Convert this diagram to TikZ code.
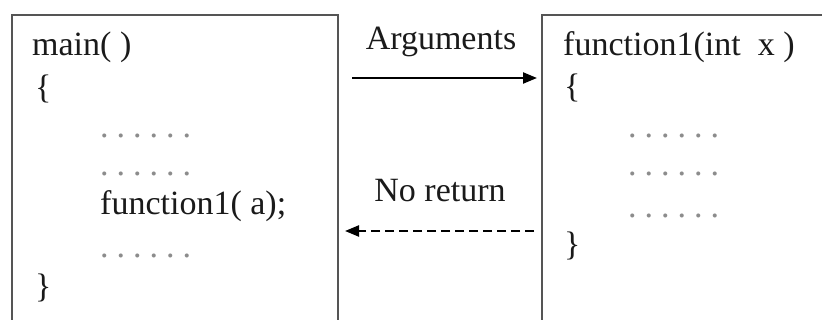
\documentclass[tikz,border=0pt]{standalone}
\usepackage{fontspec}
\setmainfont{Liberation Serif}
\usetikzlibrary{arrows.meta}
\definecolor{boxgray}{HTML}{555555}
\definecolor{txt}{HTML}{1A1A1A}
\definecolor{dotgray}{HTML}{8C8C8C}
\newcommand{\dotline}{.\hspace{8pt}.\hspace{8pt}.\hspace{8pt}.\hspace{8pt}.\hspace{8pt}.}
\begin{document}
\begin{tikzpicture}[x=1pt,y=-1pt,
  box/.style={draw=boxgray,line width=2pt,anchor=north west,inner sep=0pt},
  code/.style={anchor=base west,inner sep=0pt,text=txt,font=\fontsize{34}{40}\selectfont},
  dotrow/.style={anchor=base west,inner sep=0pt,text=dotgray,font=\fontsize{34}{40}\selectfont},
  lbl/.style={anchor=base,inner sep=0pt,text=txt,font=\fontsize{34}{40}\selectfont},
  conn/.style={line width=2.2pt,-{Triangle[length=14pt,width=11pt]}}
]
\useasboundingbox (0,0) rectangle (822,320);
\clip (0,0) rectangle (822,320);
\fill[white] (0,0) rectangle (822,320);
% boxes
\node[box,minimum width=326pt,minimum height=330pt] (L) at (11,14) {};
\node[box,minimum width=300pt,minimum height=330pt] (R) at (541,14) {};
% left code
\node[code] (l1) at (32,56) {main( )};
\node[code] (l2) at (35,99) {\{};
\node[dotrow] (l3) at (100,138) {\dotline};
\node[dotrow] (l4) at (100,176) {\dotline};
\node[code] (l5) at (100,215) {function1( a);};
\node[dotrow] (l6) at (100,258) {\dotline};
\node[code] (l7) at (35,298) {\}};
% right code
\node[code] (r1) at (563,56) {function1(int\ \ x )};
\node[code] (r2) at (564,98) {\{};
\node[dotrow] (r3) at (628,138) {\dotline};
\node[dotrow] (r4) at (628,176) {\dotline};
\node[dotrow] (r5) at (628,218) {\dotline};
\node[code] (r6) at (564,256) {\}};
% labels
\node[lbl] (argl) at (441,50) {Arguments};
\node[lbl] (retl) at (440,202) {No return};
% connectors
\coordinate (a1) at (352,78);
\coordinate (a2) at (537,78);
\coordinate (b1) at (534,231);
\coordinate (b2) at (345,231);
\draw[conn] (a1) -- (a2);
\draw[conn,dash pattern=on 9pt off 5pt] (b1) -- (b2);
\end{tikzpicture}
\end{document}
